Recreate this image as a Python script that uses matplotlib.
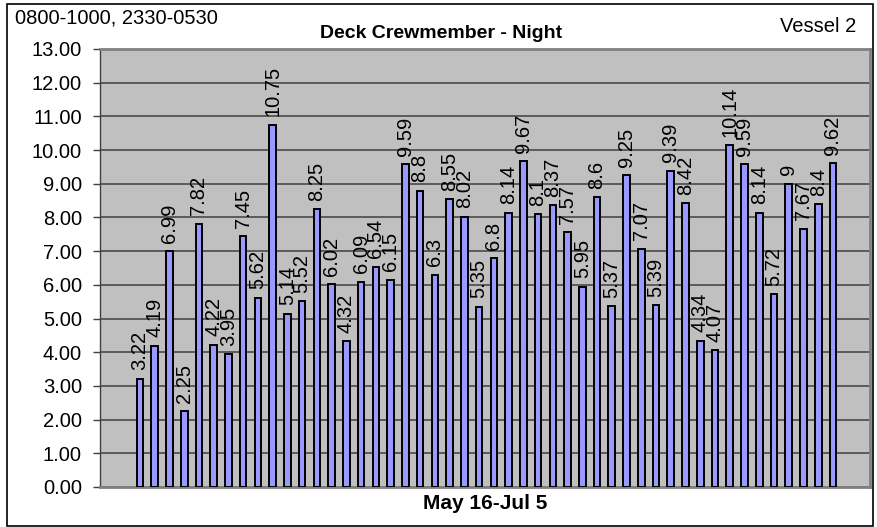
import matplotlib.pyplot as plt
from matplotlib.patches import Rectangle

# valores diarios (May 16 - Jul 5)
hours = [3.22, 4.19, 6.99, 2.25, 7.82, 4.22, 3.95, 7.45, 5.62, 10.75,
         5.14, 5.52, 8.25, 6.02, 4.32, 6.09, 6.54, 6.15, 9.59, 8.8,
         6.3, 8.55, 8.02, 5.35, 6.8, 8.14, 9.67, 8.1, 8.37, 7.57,
         5.95, 8.6, 5.37, 9.25, 7.07, 5.39, 9.39, 8.42, 4.34, 4.07,
         10.14, 9.59, 8.14, 5.72, 9, 7.67, 8.4, 9.62]
y_ticks = [i for i in range(0, 14)]

plt.rcParams['font.family'] = ['Liberation Sans', 'DejaVu Sans']

W, H = 878, 527
fig = plt.figure(figsize=(W / 100, H / 100), dpi=100)
fig.patch.set_facecolor('white')

# moldura externa do grafico
fig.patches.append(Rectangle((7 / W, 1 / H), 866 / W, 522 / H, transform=fig.transFigure,
                             fill=False, edgecolor='black', linewidth=1.2))

ax = fig.add_axes([100 / W, (H - 487) / H, 770 / W, 438 / H])
ax.set_facecolor('#C0C0C0')

x = list(range(len(hours)))
ax.bar(x, hours, width=0.45, color='#9999FF', edgecolor='black', linewidth=1.4, zorder=3)

for xi, v in zip(x, hours):
    ax.annotate(f"{v:g}", (xi, v), xytext=(0, 6), textcoords='offset points',
                rotation=90, ha='center', va='bottom', fontsize=14.5, zorder=4)

ax.set_xlim(-2.71, 49.51)
ax.set_ylim(0, 13)
ax.set_yticks(y_ticks)
ax.set_yticklabels([f"{t:.2f}" for t in y_ticks], fontsize=14.5)
ax.set_xticks([])
ax.tick_params(axis='y', length=5, width=1, color='#404040', pad=8)
ax.yaxis.grid(True, color='#404040', linewidth=1.1, zorder=1)
ax.set_axisbelow(True)

for side in ['top', 'right', 'bottom']:
    ax.spines[side].set_color('#808080')
    ax.spines[side].set_linewidth(2)
ax.spines['left'].set_color('#404040')
ax.spines['left'].set_linewidth(1)

ax.set_xlabel("May 16-Jul 5", fontsize=15, fontweight='bold', labelpad=5)

fig.text(441 / W, 1 - 34 / H, "Deck Crewmember - Night", fontsize=14, fontweight='bold',
         ha='center', va='center')
fig.text(15 / W, 1 - 18 / H, "0800-1000, 2330-0530", fontsize=14.5, ha='left', va='center')
fig.text(856 / W, 1 - 27 / H, "Vessel 2", fontsize=14.5, ha='right', va='center')

fig.savefig("out.png", dpi=100)
